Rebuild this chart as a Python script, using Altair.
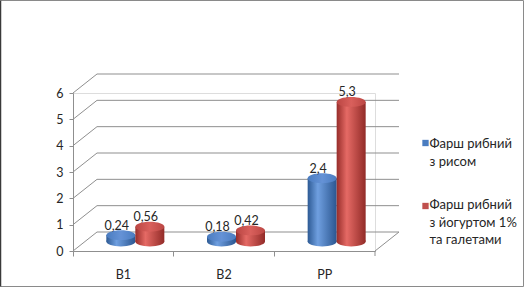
import altair as alt
import pandas as pd

categories = ["B1", "B2", "PP"]
series_names = ["Фарш рибний з рисом", "Фарш рибний з йогуртом 1% та галетами"]
legend_text = ["Фарш рибний\nз рисом", "Фарш рибний\nз йогуртом 1%\nта галетами"]
values_rice = [0.24, 0.18, 2.4]
values_yogurt = [0.56, 0.42, 5.3]
labels_rice = ["0,24", "0,18", "2,4"]
labels_yogurt = ["0,56", "0,42", "5,3"]
y_ticks = [0, 1, 2, 3, 4, 5, 6]

FONT = "Lato"
TXT = "#262626"
GRID = "#8f8f8f"

df_rice = pd.DataFrame({"category": categories, "value": values_rice, "label": labels_rice})
df_yog = pd.DataFrame({"category": categories, "value": values_yogurt, "label": labels_yogurt})
df_grid = pd.DataFrame({"value": y_ticks})

W, H = 302, 158
DX, DY = 24, -19          # depth of the 3D box
MX, MY = 12, -9.5          # mid-depth (where cylinders stand)
BW = 29                    # cylinder width

xs = alt.Scale(domain=categories, paddingInner=0, paddingOuter=0)
ys = alt.Scale(domain=[0, 6], nice=False, zero=True)

Y_AXIS = alt.Axis(values=y_ticks, tickCount=7, grid=False, domainColor=GRID, tickColor=GRID,
                  tickSize=4, labelOverlap=False, labelFont=FONT, labelFontSize=12.5,
                  labelColor=TXT, labelPadding=6, title=None)
X_AXIS = alt.Axis(bandPosition=0, domainColor=GRID, tickColor=GRID, tickSize=5, labelAngle=0,
                  labelFont=FONT, labelFontSize=12.5, labelColor=TXT, labelPadding=12, title=None)

def grad(stops):
    return alt.LinearGradient(gradient="linear", x1=0, x2=1, y1=0, y2=0,
                              stops=[alt.GradientStop(offset=o, color=c) for o, c in stops])

blue_side = grad([(0, "#2d5a94"), (0.35, "#6f9fe0"), (1, "#2b5690")])
blue_top = grad([(0, "#4a7cc0"), (0.5, "#6592d6"), (1, "#4a7cc0")])
red_side = grad([(0, "#972d2a"), (0.35, "#e56a65"), (1, "#922b28")])
red_top = grad([(0, "#bb4643"), (0.5, "#d9605c"), (1, "#bb4643")])

ELLIPSE = "M -1 0 A 1 0.34 0 1 0 1 0 A 1 0.34 0 1 0 -1 0 Z"
ESIZE = BW * BW

base_x = alt.X("category:N", scale=xs, axis=X_AXIS)
base_y = alt.Y("value:Q", scale=ys, axis=Y_AXIS)

# outer frame
frame = alt.Chart(df_grid).mark_rect(fill=None, stroke="#8a8a8a", strokeWidth=1).encode(
    x=alt.value(-72.5), x2=alt.value(450.5), y=alt.value(-92.5), y2=alt.value(193.5)
).transform_filter("datum.value == 0")
frame_left = alt.Chart(df_grid).mark_rule(stroke="#3a3a3a", strokeWidth=1.5).encode(
    x=alt.value(-72.5), y=alt.value(-92.5), y2=alt.value(193.5)
).transform_filter("datum.value == 0")

# 3D box lines
diag = alt.Chart(df_grid).mark_rule(stroke=GRID, strokeWidth=1, y2Offset=DY).encode(
    x=alt.value(0), x2=alt.value(DX), y=base_y, y2="value:Q",
)
back = alt.Chart(df_grid).mark_rule(stroke=GRID, strokeWidth=1, yOffset=DY).encode(
    x=alt.value(DX), x2=alt.value(W + DX), y=base_y
)
right_floor = alt.Chart(df_grid).mark_rule(stroke=GRID, strokeWidth=1, y2Offset=DY).encode(
    x=alt.value(W), x2=alt.value(W + DX), y=base_y, y2="value:Q"
).transform_filter("datum.value == 0")

end_tick = alt.Chart(df_grid).mark_rule(stroke=GRID).encode(
    x=alt.value(W), y=alt.value(H), y2=alt.value(H + 5)
).transform_filter("datum.value == 0")

def cylinder(df, side, top, shift, text_shift):
    bar = alt.Chart(df).mark_bar(width=BW, xOffset=MX + shift, yOffset=MY, y2Offset=MY,
                                 fill=side, strokeWidth=0).encode(
        x=base_x, y=base_y, y2=alt.datum(0))
    bottom = alt.Chart(df).mark_point(shape=ELLIPSE, size=ESIZE, filled=True, fill=side,
                                      opacity=1, strokeWidth=0, xOffset=MX + shift, yOffset=MY).encode(
        x=base_x, y=alt.Y(datum=0, scale=ys, axis=Y_AXIS))
    cap = alt.Chart(df).mark_point(shape=ELLIPSE, size=ESIZE, filled=True, fill=top,
                                   opacity=1, strokeWidth=0, xOffset=MX + shift, yOffset=MY).encode(
        x=base_x, y=base_y)
    txt = alt.Chart(df).mark_text(font=FONT, fontSize=12.5, color=TXT, baseline="alphabetic",
                                  xOffset=MX + shift + text_shift, yOffset=-15).encode(
        x=base_x, y=base_y, text="label:N")
    return [bottom, bar, cap, txt]

rice = cylinder(df_rice, blue_side, blue_top, -BW / 2, -4)
yog = cylinder(df_yog, red_side, red_top, BW / 2, -4)

def legend_item(text, color, y_sw, y_txt):
    d = pd.DataFrame({"t": [text]})
    sw = alt.Chart(d).mark_square(color=color, size=40, opacity=1).encode(
        x=alt.value(352.5), y=alt.value(y_sw))
    tx = alt.Chart(d).mark_text(font=FONT, fontSize=13, color=TXT, align="left",
                                baseline="alphabetic", lineBreak="\n", lineHeight=17.5).encode(
        x=alt.value(356.5), y=alt.value(y_txt), text="t:N")
    return [sw, tx]

leg = legend_item(legend_text[0], "#4a7cc0", 50, 55) + legend_item(legend_text[1], "#c0504d", 113, 116)

chart = alt.layer(frame, frame_left, diag, back, right_floor, end_tick,
                  *rice, *yog, *leg).properties(
    width=W, height=H,
    padding={"left": 73, "top": 93, "right": 150, "bottom": 37},
    autosize=alt.AutoSizeParams(type="none"),
).configure_view(stroke=None).configure(background="white")

chart.save("out.html", embed_options={"renderer": "svg", "actions": False})
